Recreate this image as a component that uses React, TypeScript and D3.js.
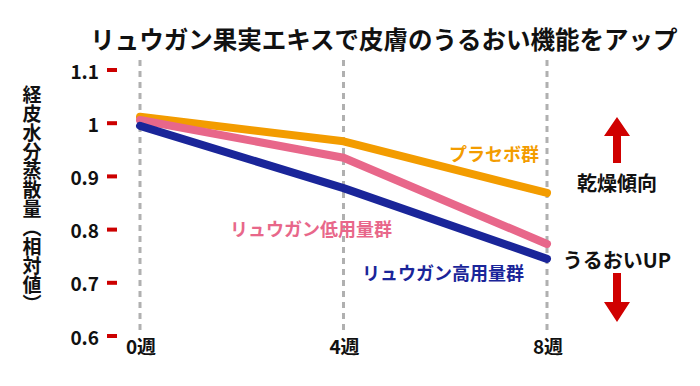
import React from "react";
import * as d3 from "d3";

const weeks = [0, 4, 8];
const weekLabels = ["0週", "4週", "8週"];
const yTicks = [0.6, 0.7, 0.8, 0.9, 1, 1.1];
const placebo = [1.012, 0.966, 0.869];
const lowDose = [1.006, 0.935, 0.773];
const highDose = [0.995, 0.878, 0.745];
const seriesNames = ["プラセボ群", "リュウガン低用量群", "リュウガン高用量群"];
const seriesColors = ["#F39C00", "#E8678A", "#1A2599"];

const W = 700;
const H = 386;
const FONT = "'Noto Sans CJK JP', 'Noto Sans', sans-serif";

export default function App() {
  const x = d3.scaleLinear().domain([0, 8]).range([140, 547]);
  const y = d3.scaleLinear().domain([0.6, 1.1]).range([336, 70]);
  const line = d3
    .line<number>()
    .x((_, i) => x(weeks[i]))
    .y((d) => y(d));
  const series = [placebo, lowDose, highDose];
  const labelPos = [
    { x: 494, y: 153 },
    { x: 311, y: 228 },
    { x: 443, y: 272 },
  ];
  return (
    <svg
      width={W}
      height={H}
      style={{ position: "absolute", left: 0, top: 0, background: "#fff" }}
      fontFamily={FONT}
    >
      <rect width={W} height={H} fill="#fff" />
      <text
        x={384}
        y={38}
        textAnchor="middle"
        dominantBaseline="central"
        fontSize={24.5}
        fontWeight="bold"
        fill="#111"
      >
        リュウガン果実エキスで皮膚のうるおい機能をアップ
      </text>
      {/* y-axis title */}
      <text
        x={32}
        y={199}
        textAnchor="middle"
        fontSize={19}
        fontWeight="bold"
        fill="#111"
        style={{ writingMode: "vertical-rl" as any }}
      >
        経皮水分蒸散量（相対値）
      </text>
      {/* gridlines */}
      {weeks.map((w) => (
        <line
          key={w}
          x1={x(w)}
          x2={x(w)}
          y1={60}
          y2={332}
          stroke="#b0b0b0"
          strokeWidth={3}
          strokeDasharray="6 5"
        />
      ))}
      {/* y ticks */}
      {yTicks.map((t) => (
        <g key={t}>
          <rect x={107} y={y(t) - 2} width={10} height={4} fill="#CC0000" />
          <text
            x={99}
            y={y(t)}
            textAnchor="end"
            dominantBaseline="central"
            fontSize={19}
            fontWeight="bold"
            fill="#111"
          >
            {String(t)}
          </text>
        </g>
      ))}
      {/* x labels */}
      {weeks.map((w, i) => (
        <text
          key={w}
          x={x(w) + 1}
          y={345}
          textAnchor="middle"
          dominantBaseline="central"
          fontSize={19}
          fontWeight="bold"
          fill="#111"
        >
          {weekLabels[i]}
        </text>
      ))}
      {/* lines */}
      {series.map((s, i) => (
        <path
          key={i}
          d={line(s) || ""}
          fill="none"
          stroke={seriesColors[i]}
          strokeWidth={8}
          strokeLinecap="round"
          strokeLinejoin="round"
        />
      ))}
      {/* series labels */}
      {seriesNames.map((n, i) => (
        <text
          key={n}
          x={labelPos[i].x}
          y={labelPos[i].y}
          textAnchor="middle"
          dominantBaseline="central"
          fontSize={18}
          fontWeight="bold"
          fill={seriesColors[i]}
        >
          {n}
        </text>
      ))}
      {/* arrows */}
      <path d="M617,117 L630,136 L621,136 L621,163 L613,163 L613,136 L604,136 Z" fill="#D00000" />
      <text
        x={617}
        y={182}
        textAnchor="middle"
        dominantBaseline="central"
        fontSize={20}
        fontWeight="bold"
        fill="#111"
      >
        乾燥傾向
      </text>
      <text
        x={617}
        y={259}
        textAnchor="middle"
        dominantBaseline="central"
        fontSize={20}
        fontWeight="bold"
        fill="#111"
      >
        うるおいUP
      </text>
      <path d="M617,322 L630,302 L621,302 L621,273 L613,273 L613,302 L604,302 Z" fill="#D00000" />
    </svg>
  );
}
